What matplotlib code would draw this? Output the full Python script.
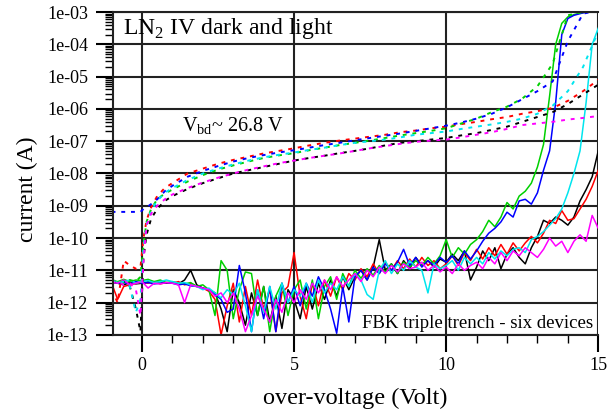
# -*- coding: utf-8 -*-
"""
LN2 IV curves, dark and light, FBK triple trench SiPMs
"""
import numpy as np
import matplotlib.pyplot as plt
from matplotlib.ticker import MultipleLocator, LogLocator, FuncFormatter

plt.rcParams["font.family"] = ["Liberation Serif", "DejaVu Serif"]
plt.rcParams["mathtext.fontset"] = "custom"
plt.rcParams["mathtext.rm"] = "Liberation Serif"

# Data: log10 of current (A)
# dark runs, over-voltage from -1 V to 15 V in 0.2 V steps
v_dark = np.linspace(-1.0, 15.0, 81)

dark_black = [
    -11.35, -11.40, -11.45, -11.38, -11.42, -11.40, -11.36, -11.38, -11.35, -11.40,
    -11.38, -11.42, -11.30, -11.00, -11.45, -11.55, -11.60, -11.70, -12.20, -12.90,
    -11.60, -12.00, -12.70, -11.70, -12.40, -11.50, -12.60, -11.80, -12.80, -11.60,
    -11.90, -12.50, -11.50, -12.20, -11.40, -11.90, -11.30, -11.80, -11.20, -11.60,
    -11.20, -11.00, -11.30, -10.90, -10.05, -11.00, -10.80, -11.10, -10.70, -10.95,
    -10.60, -10.85, -10.70, -10.90, -10.65, -10.75, -10.50, -10.70, -10.40, -11.30,
    -10.90, -10.40, -10.70, -10.30, -10.95, -10.50, -10.30, -10.60, -10.80, -10.30,
    -9.95, -9.45, -9.55, -9.35, -9.45, -9.60, -9.35, -8.85, -8.50, -8.10,
    -7.30]
dark_red = [
    -11.40, -11.90, -11.50, -11.45, -11.40, -11.38, -11.40, -11.35, -11.42, -11.38,
    -11.40, -11.35, -11.45, -11.40, -11.50, -11.55, -11.65, -11.90, -13.00, -12.10,
    -11.40, -12.60, -11.50, -12.40, -11.30, -12.20, -11.60, -12.90, -11.70, -11.50,
    -10.45, -11.80, -12.50, -11.40, -12.10, -11.30, -11.80, -11.20, -11.60, -11.10,
    -11.30, -10.95, -11.20, -10.80, -11.10, -10.75, -11.00, -10.70, -10.95, -10.65,
    -10.90, -10.60, -10.85, -10.70, -10.95, -10.80, -10.55, -10.85, -10.45, -10.70,
    -10.35, -10.65, -10.30, -10.55, -10.20, -10.50, -10.15, -10.40, -10.15, -9.95,
    -10.15, -9.85, -9.45, -9.55, -9.15, -9.45, -9.40, -9.10, -8.80, -8.40,
    -7.90]
dark_green = [
    -11.30, -11.35, -11.28, -11.35, -11.30, -11.32, -11.28, -11.35, -11.30, -11.38,
    -11.35, -11.40, -11.42, -11.38, -11.50, -11.45, -11.60, -12.40, -10.70, -11.00,
    -12.50, -11.60, -11.05, -11.10, -12.40, -11.50, -12.90, -11.80, -11.40, -12.40,
    -11.60, -11.30, -12.20, -11.30, -12.50, -11.50, -11.20, -11.90, -11.10, -11.50,
    -11.00, -11.25, -10.95, -11.15, -10.85, -11.05, -10.80, -11.10, -10.75, -10.90,
    -10.70, -10.85, -10.60, -10.80, -10.55, -10.05, -10.60, -10.30, -10.50, -10.20,
    -10.05, -9.80, -9.45, -9.65, -9.35, -8.90, -9.10, -8.70, -8.55, -8.30,
    -7.80, -7.10, -5.60, -4.00, -3.35, -3.15, -3.08, -3.03, -3.00, -3.00,
    -3.00]
dark_blue = [
    -11.35, -11.40, -11.38, -11.42, -11.35, -11.40, -11.38, -11.42, -11.40, -11.38,
    -11.40, -11.45, -11.42, -11.48, -11.50, -11.55, -11.60, -11.75, -11.90, -12.30,
    -12.20, -10.85, -11.70, -12.90, -11.60, -12.50, -11.50, -12.90, -11.40, -12.00,
    -11.50, -12.10, -11.40, -11.80, -11.20, -11.60, -12.20, -12.95, -11.50, -12.60,
    -11.20, -11.00, -11.30, -10.90, -11.10, -10.80, -11.00, -10.75, -10.35, -10.85,
    -10.60, -10.90, -10.70, -10.85, -10.60, -10.75, -10.55, -10.80, -10.40, -10.65,
    -10.40, -10.10, -9.85, -9.70, -9.50, -9.20, -9.35, -8.85, -8.80, -8.95,
    -8.60, -7.90, -7.30, -5.80, -3.70, -3.20, -3.10, -3.05, -3.00, -3.00,
    -3.00]
dark_cyan = [
    -11.30, -11.38, -11.35, -11.30, -11.40, -11.35, -11.32, -11.38, -11.35, -11.30,
    -11.35, -11.40, -11.38, -11.45, -11.50, -11.60, -11.55, -11.70, -11.85, -11.60,
    -11.75, -11.40, -12.10, -12.90, -11.60, -12.30, -11.50, -12.20, -11.40, -12.00,
    -11.60, -11.80, -11.40, -12.00, -11.30, -11.70, -11.40, -11.60, -11.20, -11.50,
    -11.10, -11.30, -11.75, -11.90, -11.00, -10.70, -11.10, -10.80, -11.00, -10.70,
    -10.90, -11.00, -11.70, -10.80, -10.95, -10.85, -10.70, -11.00, -10.60, -10.80,
    -10.60, -10.80, -10.45, -10.65, -10.40, -10.55, -10.35, -10.30, -10.45, -10.05,
    -9.95, -9.80, -9.60, -9.40, -9.10, -8.60, -8.00, -7.30, -5.80, -4.00,
    -3.50]
dark_magenta = [
    -11.35, -11.40, -11.30, -11.45, -11.40, -11.35, -11.55, -11.40, -11.42, -11.38,
    -11.40, -11.45, -12.00, -11.45, -11.50, -11.55, -11.60, -11.80, -11.70, -12.00,
    -11.70, -12.20, -12.90, -12.40, -11.80, -12.20, -12.60, -11.90, -12.30, -11.70,
    -12.00, -11.60, -11.90, -11.40, -11.70, -11.30, -11.60, -11.20, -11.50, -11.30,
    -11.10, -11.35, -11.00, -11.20, -10.90, -11.10, -10.85, -11.05, -10.80, -10.95,
    -10.90, -10.75, -11.00, -10.85, -11.05, -10.90, -11.10, -10.80, -11.00, -10.85,
    -10.75, -10.95, -10.60, -10.80, -10.45, -10.70, -10.40, -10.55, -10.30, -10.45,
    -10.60, -10.35, -10.00, -10.25, -10.10, -10.45, -10.10, -9.90, -10.10, -9.30,
    -9.70]

# light runs
v_light = [-1.0, -0.8, -0.6, -0.4, -0.2, -0.05, 0.05, 0.15, 0.3, 0.5,
           0.75, 1.0, 1.5, 2.0, 2.5, 3.0, 3.5, 4.0, 4.5, 5.0,
           5.5, 6.0, 6.5, 7.0, 7.5, 8.0, 8.5, 9.0, 9.5, 10.0,
           10.5, 11.0, 11.5, 12.0, 12.5, 13.0, 13.5, 14.0, 14.5, 15.0]

light_black = [
    -11.35, -11.40, -11.35, -11.50, -12.20, -12.90, -10.60, -9.90, -9.40, -9.10,
    -8.85, -8.70, -8.48, -8.30, -8.15, -8.00, -7.90, -7.80, -7.70, -7.60,
    -7.52, -7.45, -7.37, -7.30, -7.22, -7.13, -7.05, -7.00, -6.95, -6.90,
    -6.82, -6.75, -6.65, -6.55, -6.40, -6.25, -6.10, -5.85, -5.55, -5.25]
light_red = [
    -11.60, -12.00, -10.70, -10.85, -10.95, -10.90, -10.00, -9.45, -9.05, -8.70,
    -8.45, -8.30, -8.00, -7.85, -7.70, -7.58, -7.48, -7.38, -7.30, -7.22,
    -7.13, -7.05, -6.98, -6.92, -6.86, -6.80, -6.72, -6.67, -6.60, -6.55,
    -6.47, -6.40, -6.32, -6.25, -6.15, -6.07, -5.97, -5.75, -5.45, -5.10]
light_green = [
    -11.35, -11.30, -11.40, -11.30, -11.35, -11.20, -10.20, -9.50, -9.10, -8.80,
    -8.62, -8.50, -8.25, -8.05, -7.88, -7.75, -7.63, -7.52, -7.44, -7.37,
    -7.28, -7.20, -7.12, -7.05, -6.98, -6.90, -6.82, -6.75, -6.68, -6.60,
    -6.45, -6.30, -6.10, -5.93, -5.68, -5.30, -4.60, -3.10, -3.00, -2.95]
light_blue = [
    -9.19, -9.19, -9.19, -9.19, -9.19, -9.19, -9.10, -9.05, -8.95, -8.80,
    -8.55, -8.38, -8.10, -7.92, -7.77, -7.63, -7.52, -7.43, -7.35, -7.28,
    -7.20, -7.12, -7.05, -6.97, -6.90, -6.83, -6.76, -6.68, -6.60, -6.52,
    -6.42, -6.30, -6.15, -5.95, -5.70, -5.45, -5.15, -3.90, -3.05, -2.95]
light_cyan = [
    -11.30, -11.40, -11.35, -11.50, -12.30, -11.90, -10.30, -9.60, -9.15, -8.85,
    -8.60, -8.45, -8.20, -8.00, -7.85, -7.72, -7.60, -7.50, -7.42, -7.35,
    -7.27, -7.20, -7.12, -7.05, -7.00, -6.95, -6.88, -6.80, -6.75, -6.70,
    -6.62, -6.55, -6.48, -6.40, -6.30, -6.15, -5.90, -5.45, -4.70, -3.60]
light_magenta = [
    -11.40, -11.35, -11.45, -11.40, -11.60, -12.40, -10.70, -9.60, -9.25, -9.00,
    -8.80, -8.65, -8.45, -8.28, -8.13, -8.00, -7.88, -7.78, -7.68, -7.60,
    -7.52, -7.45, -7.38, -7.30, -7.22, -7.15, -7.08, -7.02, -6.98, -6.95,
    -6.88, -6.80, -6.72, -6.62, -6.50, -6.45, -6.40, -6.33, -6.28, -6.22]

colors = ["black", "red", "#00d000", "blue", "#00e5ee", "magenta"]
darks = [dark_black, dark_red, dark_green, dark_blue, dark_cyan, dark_magenta]
lights = [light_black, light_red, light_green, light_blue, light_cyan,
          light_magenta]

# Plotting
fig = plt.figure(figsize=(6.08, 4.16), dpi=100)
ax = fig.add_axes([0.186, 0.195, 0.798, 0.776])

for col, d in zip(colors, darks):
    ax.plot(v_dark, 10**np.array(d), color=col, lw=1.1)
for col, d in zip(colors, lights):
    ax.plot(v_light, 10**np.array(d), color=col, lw=1.4, ls=(0, (2, 3)))

ax.set_yscale("log")
ax.set_xlim(-0.95, 15)
ax.set_ylim(1e-13, 1e-3)
ax.xaxis.set_major_locator(MultipleLocator(5))
ax.xaxis.set_minor_locator(MultipleLocator(1))
ax.yaxis.set_major_locator(LogLocator(base=10, numticks=20))
ax.yaxis.set_minor_locator(LogLocator(base=10, subs=np.arange(2, 10),
                                      numticks=20))
ax.yaxis.set_major_formatter(FuncFormatter(lambda y, _: f"{y:.0e}"))
ax.yaxis.set_minor_formatter(FuncFormatter(lambda y, _: ""))
ax.grid(True, which="major", color="#222222", lw=1.5)
ax.tick_params(which="major", direction="out", length=12, width=1.5,
               labelsize=13, pad=6)
ax.tick_params(which="minor", direction="out", length=6, width=1)
ax.tick_params(axis="x", which="major", pad=4)
ax.tick_params(right=False, top=False)
for s in ax.spines.values():
    s.set_linewidth(1.5)
    s.set_color("#222222")
ax.spines["right"].set_visible(False)

ax.set_xlabel("over-voltage (Volt)", fontsize=17.5, labelpad=10)
ax.set_ylabel("current (A)", fontsize=17)
ax.yaxis.set_label_coords(-0.155, 0.45)

ax.text(0.02, 0.95, "LN$_2$ IV dark and light", transform=ax.transAxes,
        fontsize=17, va="center", ha="left")
ax.text(1.3, 2.9e-7, "V$_{\\rm bd}$~ 26.8 V", fontsize=14.5, ha="left",
        va="center")
ax.text(0.99, 0.01, "FBK triple trench - six devices", transform=ax.transAxes,
        fontsize=13.5, ha="right", va="bottom")

plt.savefig("out.png", dpi=100)
